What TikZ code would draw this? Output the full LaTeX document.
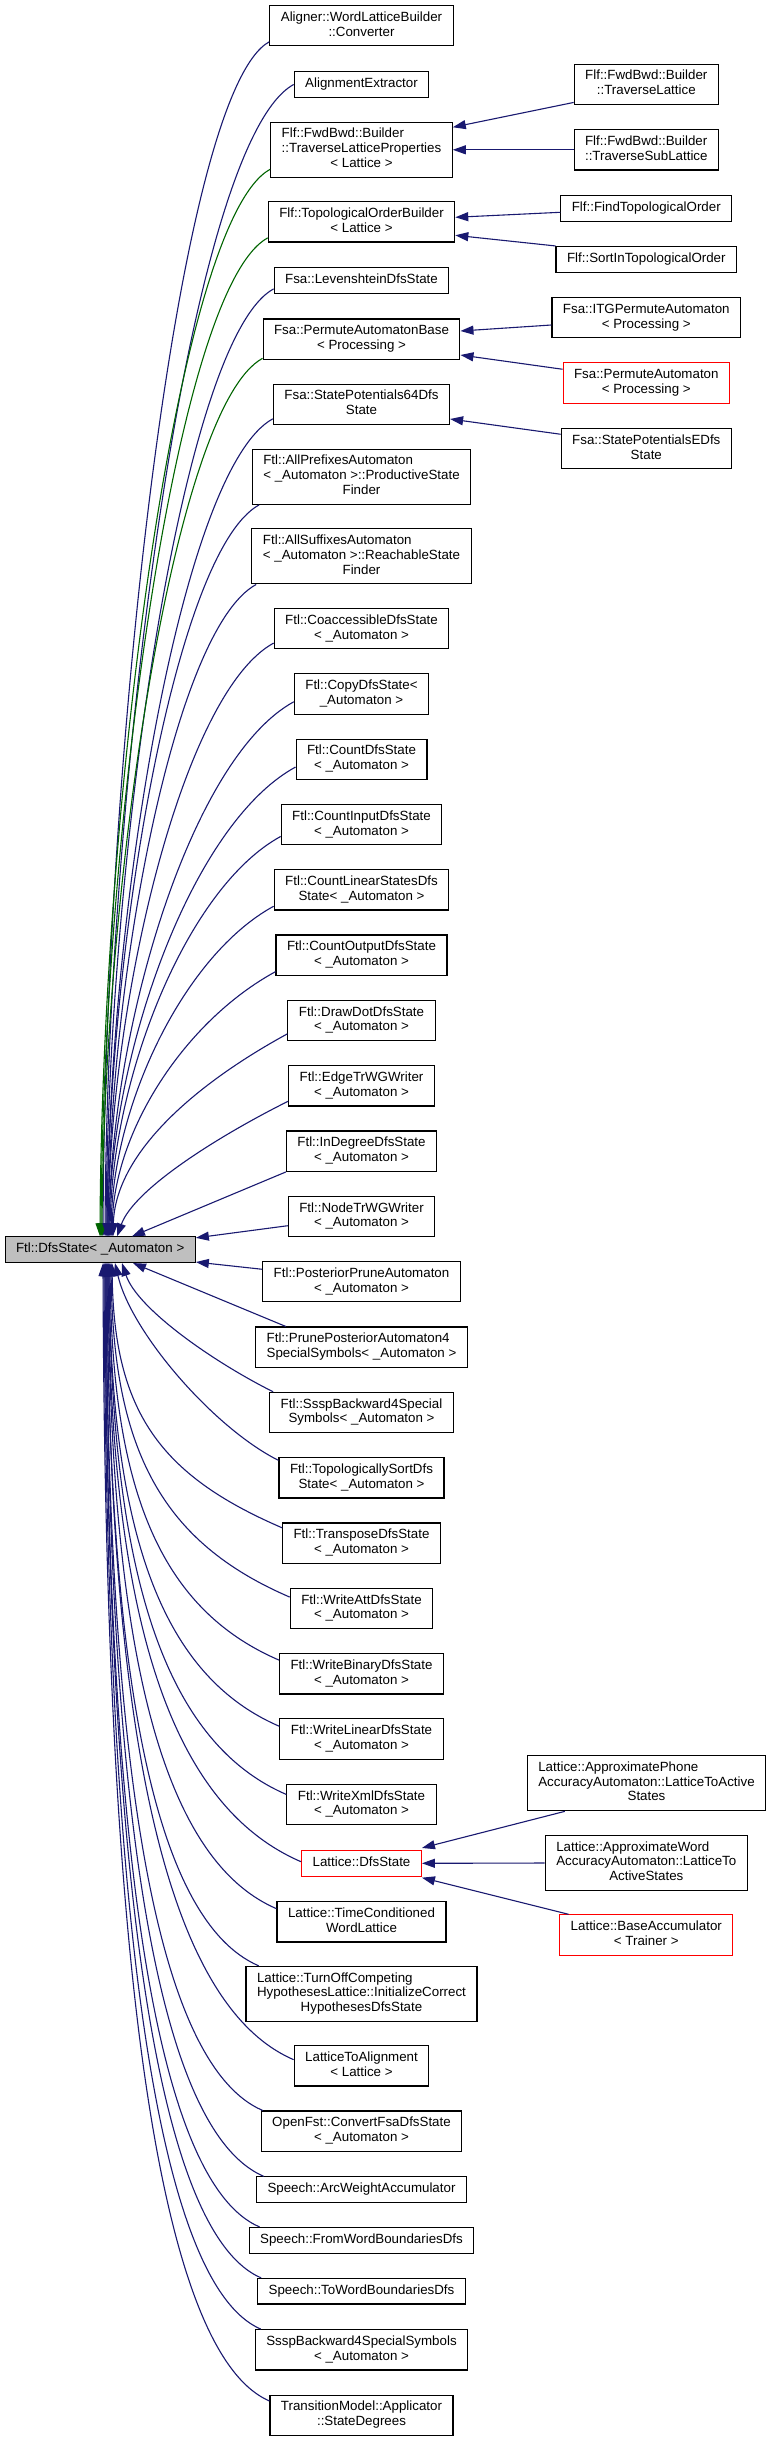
\documentclass[tikz,border=0pt]{standalone}
\usepackage{fontspec}
\setmainfont{Liberation Sans}
\usetikzlibrary{arrows.meta,calc}
\definecolor{edgeblue}{HTML}{191970}
\definecolor{protgreen}{HTML}{006400}
\definecolor{rootgray}{HTML}{BFBFBF}
\newcommand\dxlab[2]{\begin{tabular}{@{}l@{}}#1\multicolumn{1}{@{}c@{}}{#2}\end{tabular}}
\begin{document}
\begin{tikzpicture}[x=1pt,y=-1pt,
  box/.style={draw=black, line width=1.1pt, fill=white, inner xsep=11pt, inner ysep=5.4pt,
    font=\fontsize{13.33}{14.8}\selectfont},
  redbox/.style={box, draw=red},
  rootbox/.style={box, fill=rootgray},
  pub/.style={draw=edgeblue, line width=1.1pt, arrows={Triangle[length=13pt,width=9pt]-}},
  prot/.style={pub, draw=protgreen}]
\fill[white] (0,0) rectangle (767,2441);
\useasboundingbox (0,0) rectangle (767,2441);
% middle column
\node[box] (n1) at (361.5,25.7) {\dxlab{Aligner::WordLatticeBuilder\\}{::Converter}};
\node[box] (n2) at (361.5,84.5) {\dxlab{}{AlignmentExtractor}};
\node[box] (n3) at (361.5,149.8) {\dxlab{Flf::FwdBwd::Builder\\::TraverseLatticeProperties\\}{< Lattice >}};
\node[box] (n4) at (361.5,221.8) {\dxlab{Flf::TopologicalOrderBuilder\\}{< Lattice >}};
\node[box] (n5) at (361.5,280.5) {\dxlab{}{Fsa::LevenshteinDfsState}};
\node[box] (n6) at (361.5,339.2) {\dxlab{Fsa::PermuteAutomatonBase\\}{< Processing >}};
\node[box] (n7) at (361.5,404.3) {\dxlab{Fsa::StatePotentials64Dfs\\}{State}};
\node[box] (n8) at (361.5,476.7) {\dxlab{Ftl::AllPrefixesAutomaton\\< \_Automaton >::ProductiveState\\}{Finder}};
\node[box] (n9) at (361.5,556.3) {\dxlab{Ftl::AllSuffixesAutomaton\\< \_Automaton >::ReachableState\\}{Finder}};
\node[box] (n10) at (361.5,628.7) {\dxlab{Ftl::CoaccessibleDfsState\\}{< \_Automaton >}};
\node[box] (n11) at (361.5,694) {\dxlab{Ftl::CopyDfsState<\\}{\_Automaton >}};
\node[box] (n12) at (361.5,759.3) {\dxlab{Ftl::CountDfsState\\}{< \_Automaton >}};
\node[box] (n13) at (361.5,824.7) {\dxlab{Ftl::CountInputDfsState\\}{< \_Automaton >}};
\node[box] (n14) at (361.5,889.8) {\dxlab{Ftl::CountLinearStatesDfs\\}{State< \_Automaton >}};
\node[box] (n15) at (361.5,955.2) {\dxlab{Ftl::CountOutputDfsState\\}{< \_Automaton >}};
\node[box] (n16) at (361.5,1020.5) {\dxlab{Ftl::DrawDotDfsState\\}{< \_Automaton >}};
\node[box] (n17) at (361.5,1085.8) {\dxlab{Ftl::EdgeTrWGWriter\\}{< \_Automaton >}};
\node[box] (n18) at (361.5,1151.2) {\dxlab{Ftl::InDegreeDfsState\\}{< \_Automaton >}};
\node[box] (n19) at (361.5,1216.5) {\dxlab{Ftl::NodeTrWGWriter\\}{< \_Automaton >}};
\node[rootbox] (root) at (100.2,1249.7) {\dxlab{}{Ftl::DfsState< \_Automaton >}};
\node[box] (n20) at (361.5,1281.7) {\dxlab{Ftl::PosteriorPruneAutomaton\\}{< \_Automaton >}};
\node[box] (n21) at (361.5,1347.2) {\dxlab{Ftl::PrunePosteriorAutomaton4\\}{SpecialSymbols< \_Automaton >}};
\node[box] (n22) at (361.5,1412.5) {\dxlab{Ftl::SsspBackward4Special\\}{Symbols< \_Automaton >}};
\node[box] (n23) at (361.5,1477.8) {\dxlab{Ftl::TopologicallySortDfs\\}{State< \_Automaton >}};
\node[box] (n24) at (361.5,1543.2) {\dxlab{Ftl::TransposeDfsState\\}{< \_Automaton >}};
\node[box] (n25) at (361.5,1608.5) {\dxlab{Ftl::WriteAttDfsState\\}{< \_Automaton >}};
\node[box] (n26) at (361.5,1673.8) {\dxlab{Ftl::WriteBinaryDfsState\\}{< \_Automaton >}};
\node[box] (n27) at (361.5,1739) {\dxlab{Ftl::WriteLinearDfsState\\}{< \_Automaton >}};
\node[box] (n28) at (361.5,1804.5) {\dxlab{Ftl::WriteXmlDfsState\\}{< \_Automaton >}};
\node[redbox] (n29) at (361.5,1863.3) {\dxlab{}{Lattice::DfsState}};
\node[box] (n30) at (361.5,1921.8) {\dxlab{Lattice::TimeConditioned\\}{WordLattice}};
\node[box] (n31) at (361.5,1994) {\dxlab{Lattice::TurnOffCompeting\\HypothesesLattice::InitializeCorrect\\}{HypothesesDfsState}};
\node[box] (n32) at (361.5,2065.8) {\dxlab{LatticeToAlignment\\}{< Lattice >}};
\node[box] (n33) at (361.5,2131.2) {\dxlab{OpenFst::ConvertFsaDfsState\\}{< \_Automaton >}};
\node[box] (n34) at (361.5,2189.7) {\dxlab{}{Speech::ArcWeightAccumulator}};
\node[box] (n35) at (361.5,2240.3) {\dxlab{}{Speech::FromWordBoundariesDfs}};
\node[box] (n36) at (361.5,2291.2) {\dxlab{}{Speech::ToWordBoundariesDfs}};
\node[box] (n37) at (361.5,2349.8) {\dxlab{SsspBackward4SpecialSymbols\\}{< \_Automaton >}};
\node[box] (n38) at (361.5,2415.3) {\dxlab{TransitionModel::Applicator\\}{::StateDegrees}};
% right column
\node[box] (r1) at (646.3,84.3) {\dxlab{Flf::FwdBwd::Builder\\}{::TraverseLattice}};
\node[box] (r2) at (646.3,149.8) {\dxlab{Flf::FwdBwd::Builder\\}{::TraverseSubLattice}};
\node[box] (r3) at (646.3,208.5) {\dxlab{}{Flf::FindTopologicalOrder}};
\node[box] (r4) at (646.3,259.3) {\dxlab{}{Flf::SortInTopologicalOrder}};
\node[box] (r5) at (646.3,317.7) {\dxlab{Fsa::ITGPermuteAutomaton\\}{< Processing >}};
\node[redbox] (r6) at (646.3,383) {\dxlab{Fsa::PermuteAutomaton\\}{< Processing >}};
\node[box] (r7) at (646.3,448.7) {\dxlab{Fsa::StatePotentialsEDfs\\}{State}};
\node[box] (r8) at (646.5,1783.2) {\dxlab{Lattice::ApproximatePhone\\AccuracyAutomaton::LatticeToActive\\}{States}};
\node[box] (r9) at (646.3,1863) {\dxlab{Lattice::ApproximateWord\\AccuracyAutomaton::LatticeTo\\}{ActiveStates}};
\node[redbox] (r10) at (646.3,1935) {\dxlab{Lattice::BaseAccumulator\\}{< Trainer >}};
% edges to root, upper
\draw[pub] ($(root.north)+(2.8,0)$) .. controls +(2.0,-478.3) and +(-92.4,50.4) .. ($(n1.south west)+(0,-4.7)$);
\draw[pub] ($(root.north)+(4.8,0)$) .. controls +(2.3,-460.9) and +(-104.3,56.9) .. (n2.west);
\draw[prot] ($(root.north)+(-0.2,0)$) .. controls +(2.1,-427.4) and +(-94.3,51.4) .. ($(n3.south west)+(0,-8.7)$);
\draw[prot] ($(root.north)+(0.8,0)$) .. controls +(2.0,-399.8) and +(-92.7,50.6) .. ($(n4.south west)+(0,-4.7)$);
\draw[pub] ($(root.north)+(5.8,0)$) .. controls +(2.0,-379.4) and +(-92.1,50.2) .. ($(n5.south west)+(0,-5)$);
\draw[prot] ($(root.north)+(1.8,0)$) .. controls +(1.9,-351.6) and +(-89.1,48.6) .. ($(n6.south west)+(0,-1.6)$);
\draw[pub] ($(root.north)+(6.8,0)$) .. controls +(2.0,-327.5) and +(-91.3,49.8) .. ($(n7.south west)+(0,-6.3)$);
\draw[pub] ($(root.north)+(6.8,0)$) .. controls +(1.8,-293.1) and +(-83.9,45.8) .. ($(n8.south west)+(7.4,0)$);
\draw[pub] ($(root.north)+(7.8,0)$) .. controls +(1.8,-261.2) and +(-82,44.7) .. ($(n9.south west)+(4.8,0)$);
\draw[pub] ($(root.north)+(7.8,0)$) .. controls +(2.0,-237.8) and +(-90.8,49.5) .. ($(n10.south west)+(0,-6.4)$);
\draw[pub] ($(root.north)+(8.8,0)$) .. controls +(2.2,-214.3) and +(-101.5,55.4) .. ($(n11.south west)+(0,-13)$);
\draw[pub] ($(root.north)+(8.8,0)$) .. controls +(2.2,-188.3) and +(-102.3,55.8) .. ($(n12.south west)+(0,-13)$);
\draw[pub] ($(root.north)+(9.8,0)$) .. controls +(2.0,-160.4) and +(-93.4,50.9) .. ($(n13.south west)+(0,-9)$);
\draw[pub] ($(root.north)+(10.8,0)$) .. controls +(1.9,-132.4) and +(-89.3,48.7) .. ($(n14.south west)+(0,-4.3)$);
\draw[pub] ($(root.north)+(11.8,0)$) .. controls +(2.0,-106.3) and +(-89.9,49) .. ($(n15.south west)+(0,-4.3)$);
\draw[pub] ($(root.north)+(12.8,0)$) .. controls +(2.1,-81.4) and +(-95.5,52.1) .. ($(n16.south west)+(0,-7.4)$);
\draw[pub] ($(root.north)+(16.8,0)$) .. controls +(17.2,-47.6) and +(-68.7,34.3) .. ($(n17.south west)+(0,-5.3)$);
\draw[pub] ($(root.north)+(31.8,0)$) -- (n18.south west);
\draw[pub] ($(root.north east)+(0,1.5)$) -- ($(n19.west)+(0,9.2)$);
% edges to root, lower
\draw[pub] ($(root.south east)+(0,-1)$) -- ($(n20.north west)+(0,8.3)$);
\draw[pub] ($(root.south)+(32.8,0)$) -- ($(n21.north west)+(30.7,0)$);
\draw[pub] ($(root.south)+(21.8,0)$) .. controls +(15.1,45.4) and +(-60.6,-30.3) .. ($(n22.north west)+(3.9,0)$);
\draw[pub] ($(root.south)+(14.8,0)$) .. controls +(16.2,69.4) and +(-64.9,-32.5) .. ($(n23.north west)+(0,3.3)$);
\draw[pub] ($(root.south)+(11.8,0)$) .. controls +(2.0,148.7) and +(-121.9,-52.5) .. ($(n24.north west)+(0,5.3)$);
\draw[pub] ($(root.south)+(10.8,0)$) .. controls +(2.1,187.6) and +(-127.6,-54.9) .. ($(n25.north west)+(0,9.3)$);
\draw[pub] ($(root.south)+(9.8,0)$) .. controls +(2.0,222.9) and +(-121.2,-52.2) .. ($(n26.north west)+(0,7)$);
\draw[pub] ($(root.south)+(8.8,0)$) .. controls +(2.0,259.8) and +(-122.6,-52.8) .. ($(n27.north west)+(0,8)$);
\draw[pub] ($(root.south)+(8.8,0)$) .. controls +(2.1,298.1) and +(-127.2,-54.8) .. ($(n28.north west)+(0,10.7)$);
\draw[pub] ($(root.south)+(7.8,0)$) .. controls +(2.3,335.4) and +(-138.6,-59.7) .. ($(n29.west)+(0,-1.6)$);
\draw[pub] ($(root.south)+(7.8,0)$) .. controls +(2.0,362.1) and +(-122.3,-52.6) .. ($(n30.north west)+(0,7.6)$);
\draw[pub] ($(root.south)+(6.8,0)$) .. controls +(1.8,394.2) and +(-109.2,-47) .. ($(n31.north west)+(13.3,0)$);
\draw[pub] ($(root.south)+(6.8,0)$) .. controls +(2.2,446.7) and +(-134.4,-57.8) .. ($(n32.north west)+(0,14.6)$);
\draw[pub] ($(root.south)+(5.8,0)$) .. controls +(1.9,475) and +(-112.8,-48.5) .. ($(n33.north west)+(2,0)$);
\draw[pub] ($(root.south)+(5.8,0)$) .. controls +(1.9,512) and +(-114.1,-49.1) .. ($(n34.north west)+(7.8,0)$);
\draw[pub] ($(root.south)+(4.8,0)$) .. controls +(1.9,540.4) and +(-112.3,-48.4) .. ($(n35.north west)+(11,0)$);
\draw[pub] ($(root.south)+(4.8,0)$) .. controls +(1.9,568.7) and +(-112.3,-48.4) .. ($(n36.north west)+(4,0)$);
\draw[pub] ($(root.south)+(3.8,0)$) .. controls +(1.9,597.5) and +(-113,-48.7) .. ($(n37.north west)+(6,0)$);
\draw[pub] ($(root.south)+(2.8,0)$) .. controls +(2,637.8) and +(-121,-52.1) .. ($(n38.north west)+(0,6.4)$);
% right column edges
\draw[pub] ($(n3.north east)+(0,5.6)$) -- ($(r1.south west)+(0,-2.6)$);
\draw[pub] (n3.east) -- (r2.west);
\draw[pub] ($(n4.east)+(0,-4.5)$) -- ($(r3.west)+(0,3.8)$);
\draw[pub] ($(n4.east)+(0,13.5)$) -- (r4.north west);
\draw[pub] ($(n6.east)+(0,-8.2)$) -- ($(r5.west)+(0,7.3)$);
\draw[pub] ($(n6.east)+(0,15.8)$) -- ($(r6.north west)+(0,7)$);
\draw[pub] ($(n7.east)+(0,14.7)$) -- ($(r7.north west)+(0,6.3)$);
\draw[pub] ($(n29.north east)+(0,-2)$) -- ($(r8.south west)+(38,0)$);
\draw[pub] (n29.east) -- (r9.west);
\draw[pub] ($(n29.south east)+(0,1)$) -- ($(r10.north west)+(9.4,0)$);
\end{tikzpicture}
\end{document}
